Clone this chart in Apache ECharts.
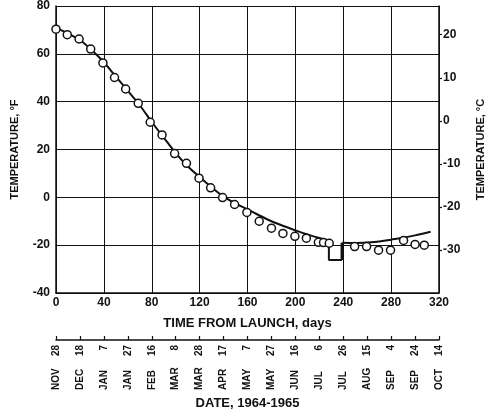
<!DOCTYPE html>
<html><head><meta charset="utf-8">
<script src="https://cdn.jsdelivr.net/npm/echarts@6/dist/echarts.min.js"></script>
<style>html,body{margin:0;padding:0;background:#fff}#c{width:494px;height:416px}</style>
</head><body><div id="c"></div>
<script>
// measured points (circles)
var pointDays  = [0, 9.4, 19.3, 29, 39.2, 48.9, 58.2, 68.7, 78.7, 88.6, 99.1, 109, 119.5, 129.2, 139.2, 149.2, 159.5, 169.8, 180, 189.6, 199.6, 209.2, 219.2, 223.5, 228.3, 249.5, 259.5, 269.5, 279.5, 290.4, 300, 307.7];
var pointTemps = [70.3, 68, 66.2, 62, 56.2, 50.1, 45.3, 39.3, 31.4, 26.1, 18.3, 14.2, 8, 4, -0.1, -3, -6.3, -10, -12.9, -15.1, -16.3, -17.1, -18.8, -18.9, -19.2, -20.6, -20.6, -22.1, -22.1, -18, -19.7, -20];
// predicted curve, before the dip
var curveDays  = [0, 10, 20, 30, 40, 50, 60, 70, 80, 90, 100, 110, 120, 130, 140, 150, 160, 170, 180, 190, 200, 210, 220, 228];
var curveTemps = [71, 68.5, 65.8, 61.5, 56.5, 50.5, 44.5, 38.5, 31.5, 25, 18.5, 13, 8.5, 4.2, 0.3, -2.6, -5, -7.6, -10, -12, -13.8, -15.5, -17, -18];
// the dip
var dipDays  = [228, 228, 239];
var dipTemps = [-18, -26.2, -26.2];
var dipRiseDays  = [239, 239];
var dipRiseTemps = [-26.2, -19];
// predicted curve, after the dip
var lateDays  = [239, 250, 260, 270, 280, 290, 300, 313];
var lateTemps = [-19, -19.1, -18.9, -18.5, -17.7, -16.9, -15.9, -14.4];
// date axis labels (every 20 days)
var dateDayLabels   = ['28','18','7','27','16','8','28','17','7','27','16','6','26','15','4','24','14'];
var dateMonthLabels = ['NOV','DEC','JAN','JAN','FEB','MAR','MAR','APR','MAY','MAY','JUN','JUL','JUL','AUG','SEP','SEP','OCT'];

function pairs(xs, ys){ return xs.map(function(x,i){ return [x, ys[i]]; }); }
var INK = '#111';
var FONT = 'Liberation Sans';
var chart = echarts.init(document.getElementById('c'), null, {renderer:'canvas'});
var fToC = function(f){ return (f-32)*5/9; };
chart.setOption({
  animation:false,
  backgroundColor:'#fff',
  textStyle:{fontFamily:FONT, fontWeight:'bold', color:INK},
  grid:{left:56, right:52, top:5, bottom:123, containLabel:false},
  xAxis:[{
    type:'value', min:0, max:320, interval:40,
    axisLine:{show:true, onZero:false, lineStyle:{color:INK, width:1.5}},
    axisTick:{show:false},
    axisLabel:{fontSize:12, fontWeight:'bold', color:INK, margin:4, fontFamily:FONT},
    splitLine:{show:true, lineStyle:{color:INK, width:1}},
    name:'TIME FROM LAUNCH, days', nameLocation:'middle', nameGap:24, nameMoveOverlap:false,
    nameTextStyle:{fontSize:13, fontWeight:'bold', color:INK, fontFamily:FONT}
  },{
    type:'value', min:0, max:320, interval:20, position:'bottom', offset:47,
    axisLine:{show:true, onZero:false, lineStyle:{color:INK, width:1.5}},
    axisTick:{show:true, inside:true, length:4, lineStyle:{color:INK, width:1.2}},
    axisLabel:{rotate:90, fontSize:10, fontWeight:'bold', color:INK, margin:5, fontFamily:FONT,
      formatter:function(v){ return dateDayLabels[Math.round(v/20)] || ''; }},
    splitLine:{show:false}
  },{
    type:'value', min:0, max:320, interval:20, position:'bottom', offset:97,
    axisLine:{show:false, onZero:false},
    axisTick:{show:false},
    axisLabel:{rotate:90, align:'left', fontSize:10, fontWeight:'bold', color:INK, margin:0, fontFamily:FONT,
      formatter:function(v){ return dateMonthLabels[Math.round(v/20)] || ''; }},
    splitLine:{show:false},
    name:'DATE, 1964-1965', nameLocation:'middle', nameGap:7, nameMoveOverlap:false,
    nameTextStyle:{fontSize:13, fontWeight:'bold', color:INK, fontFamily:FONT, verticalAlign:'top'}
  }],
  yAxis:[{
    type:'value', min:-40, max:80, interval:20,
    axisLine:{show:true, onZero:false, lineStyle:{color:INK, width:1.5}},
    axisTick:{show:false},
    axisLabel:{fontSize:12, fontWeight:'bold', color:INK, margin:6, fontFamily:FONT},
    splitLine:{show:true, lineStyle:{color:INK, width:1}},
    name:'TEMPERATURE, °F', nameLocation:'middle', nameGap:36, nameMoveOverlap:false,
    nameTextStyle:{fontSize:11, fontWeight:'bold', color:INK, fontFamily:FONT}
  },{
    type:'value', position:'right', min:-40, max:fToC(80), interval:10,
    axisLine:{show:true, onZero:false, lineStyle:{color:INK, width:1.5}},
    axisTick:{show:true, length:3, lineStyle:{color:INK, width:1.2}},
    axisLabel:{fontSize:12, fontWeight:'bold', color:INK, margin:4, fontFamily:FONT, showMinLabel:false, showMaxLabel:false},
    splitLine:{show:false},
    name:'TEMPERATURE, °C', nameLocation:'middle', nameGap:36, nameRotate:90, nameMoveOverlap:false,
    nameTextStyle:{fontSize:11, fontWeight:'bold', color:INK, fontFamily:FONT}
  }],
  series:[{
    type:'line', data:pairs(curveDays, curveTemps), smooth:0.3, showSymbol:false,
    lineStyle:{color:INK, width:2}, z:3
  },{
    type:'line', data:pairs(dipDays, dipTemps), showSymbol:false,
    lineStyle:{color:INK, width:2}, z:3
  },{
    type:'line', data:pairs(dipRiseDays, dipRiseTemps), showSymbol:false,
    lineStyle:{color:INK, width:3}, z:3
  },{
    type:'line', data:pairs(lateDays, lateTemps), smooth:0.3, showSymbol:false,
    lineStyle:{color:INK, width:2}, z:3
  },{
    type:'scatter', data:pairs(pointDays, pointTemps), symbol:'circle', symbolSize:8,
    itemStyle:{color:'#fff', borderColor:INK, borderWidth:1.5, opacity:1}, z:5
  }]
});
</script></body></html>
